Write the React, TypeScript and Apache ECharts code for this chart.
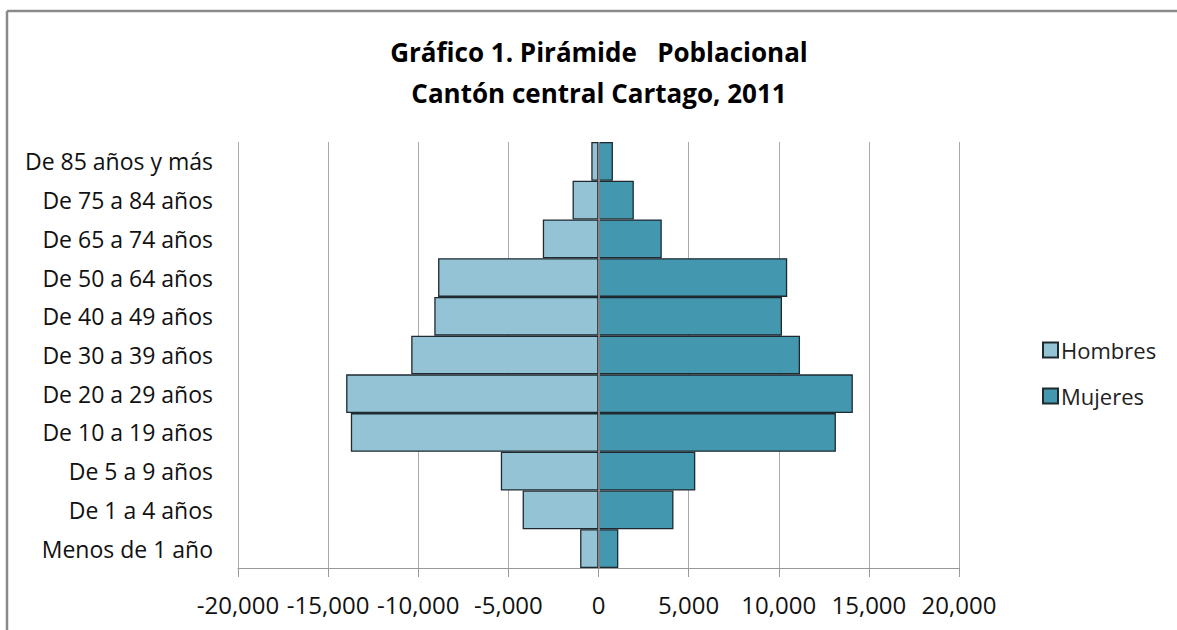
import React, { useEffect, useRef } from "react";
import * as echarts from "echarts";

const categories = [
  "Menos de 1 año",
  "De 1 a 4 años",
  "De 5 a 9 años",
  "De 10 a 19 años",
  "De 20 a 29 años",
  "De 30 a 39 años",
  "De 40 a 49 años",
  "De 50 a 64 años",
  "De 65 a 74 años",
  "De 75 a 84 años",
  "De 85 años y más",
];
const hombres = [-1020, -4210, -5420, -13740, -14000, -10390, -9110, -8900, -3090, -1440, -400];
const mujeres = [1100, 4160, 5370, 13170, 14110, 11180, 10180, 10470, 3510, 1960, 800];
const titleLines = ["Gráfico 1. Pirámide   Poblacional", "Cantón central Cartago, 2011"];

const FONT = "'Open Sans', sans-serif";

export default function App() {
  const ref = useRef<HTMLDivElement>(null);
  useEffect(() => {
    if (!ref.current) return;
    const chart = echarts.init(ref.current, null, { renderer: "svg" });
    chart.setOption({
      animation: false,
      backgroundColor: "#ffffff",
      textStyle: { fontFamily: FONT },
      title: {
        text: titleLines.join("\n"),
        left: 594,
        textAlign: "center",
        top: 26,
        textStyle: {
          fontFamily: FONT,
          fontSize: 26,
          fontWeight: "bold",
          color: "#000",
          lineHeight: 41,
        },
      },
      legend: {
        orient: "vertical",
        left: 1037,
        top: 334,
        itemWidth: 15,
        itemHeight: 15,
        itemGap: 24,
        icon: "rect",
        textStyle: { fontFamily: FONT, fontSize: 22, color: "#222", padding: [0, 0, 0, -2] },
        data: ["Hombres", "Mujeres"],
      },
      grid: { left: 238, right: 218, top: 142, bottom: 62, containLabel: false },
      xAxis: {
        type: "value",
        min: -20000,
        max: 20000,
        interval: 5000,
        axisLine: { show: true, onZero: false, lineStyle: { color: "#999", width: 1 } },
        axisTick: { show: true, length: 9, lineStyle: { color: "#999" } },
        splitLine: { show: true, lineStyle: { color: "#aaa", width: 1 } },
        axisLabel: {
          fontFamily: FONT,
          fontSize: 24,
          color: "#111",
          margin: 24,
          formatter: (v: number) => v.toLocaleString("en-US"),
        },
      },
      yAxis: {
        type: "category",
        data: categories,
        axisLine: { show: false, onZero: false },
        axisTick: { show: false },
        axisLabel: { fontFamily: FONT, fontSize: 23, color: "#111", margin: 25 },
      },
      series: [
        {
          name: "Hombres",
          type: "bar",
          data: hombres,
          barGap: "-100%",
          barCategoryGap: 0,
          itemStyle: { color: "#93C3D4", borderColor: "#1e2a30", borderWidth: 1.3 },
        },
        {
          name: "Mujeres",
          type: "bar",
          data: mujeres,
          barGap: "-100%",
          barCategoryGap: 0,
          itemStyle: { color: "#4397AE", borderColor: "#1e2a30", borderWidth: 1.3 },
          markLine: {
            silent: true,
            symbol: "none",
            label: { show: false },
            z: 10,
            lineStyle: { color: "#999", width: 1.5, type: "solid" },
            data: [{ xAxis: 0 }],
          },
        },
      ],
      graphic: [
        {
          type: "line",
          shape: { x1: 7, y1: 11, x2: 1177, y2: 11 },
          style: { stroke: "#8a8a8a", lineWidth: 2.5 },
        },
        {
          type: "line",
          shape: { x1: 7, y1: 11, x2: 7, y2: 630 },
          style: { stroke: "#8a8a8a", lineWidth: 2.5 },
        },
      ],
    });
    return () => chart.dispose();
  }, []);
  return (
    <div
      ref={ref}
      style={{ position: "fixed", left: 0, top: 0, width: 1177, height: 630 }}
    />
  );
}
